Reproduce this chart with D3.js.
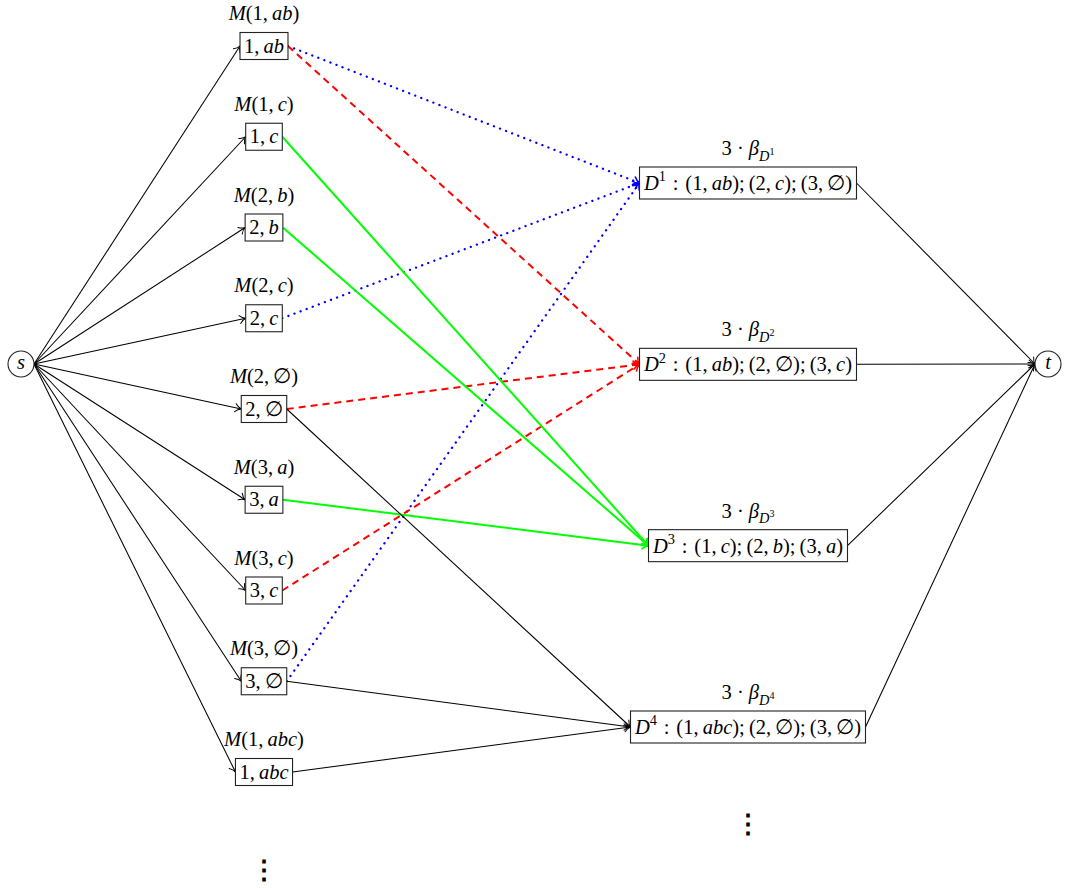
<!DOCTYPE html>
<html><head><meta charset="utf-8">
<script src="https://cdn.jsdelivr.net/npm/d3@7"></script>
<style>body{margin:0;background:#fff} svg{display:block} text{white-space:pre}</style>
</head><body>
<svg id="c" width="1065" height="888"></svg>
<script>
// ---- data ----
const leftKeys = ["1,ab", "1,c", "2,b", "2,c", "2,∅", "3,a", "3,c", "3,∅", "1,abc"];
const rightKeys = ["D^1", "D^2", "D^3", "D^4"];
const rightSets = ["(1,ab);(2,c);(3,∅)", "(1,ab);(2,∅);(3,c)", "(1,c);(2,b);(3,a)", "(1,abc);(2,∅);(3,∅)"];
const weightFactor = "3";
const blueEdges = [[0, 0], [3, 0], [7, 0]];
const redEdges = [[0, 1], [4, 1], [6, 1]];
const greenEdges = [[1, 2], [2, 2], [5, 2]];
const blackEdges = [[4, 3], [7, 3], [8, 3]];

// ---- layout ----
const svg = d3.select("#c");
const FONT = "'Liberation Serif','DejaVu Serif',serif";
const FS = 20.5;
const yLeft = d3.scaleLinear().domain([0, leftKeys.length - 1]).range([46, 772]);
const yRight = d3.scaleLinear().domain([0, rightKeys.length - 1]).range([183, 727]);
const xLeft = 264, xRight = 748;
const S = {x: 21, y: 364, r: 13}, T = {x: 1048, y: 364, r: 13};

const defs = svg.append("defs");
const colors = {black: "#000", blue: "#0000ff", red: "#ff0000", green: "#00ff00"};
Object.entries(colors).forEach(([k, c]) => {
  defs.append("marker").attr("id", "arr-" + k)
    .attr("markerUnits", "userSpaceOnUse").attr("markerWidth", 20).attr("markerHeight", 20)
    .attr("viewBox", "-10 -10 20 20").attr("refX", 0).attr("refY", 0).attr("orient", "auto")
    .append("path").attr("d", "M-6,-4 C-4,-1.6 -1.6,-0.4 0,0 C-1.6,0.4 -4,1.6 -6,4")
    .attr("fill", "none").attr("stroke", c).attr("stroke-width", k === "black" ? 1 : 1.6).attr("stroke-linecap", "round");
});

const gEdges = svg.append("g");
const gNodes = svg.append("g");

function parseMath(str, off, sc, out) {
  let i = 0;
  while (i < str.length) {
    const c = str[i];
    if (c === '^' || c === '_') {
      i++;
      let g;
      if (str[i] === '{') {
        let d = 1, j = i + 1;
        while (d > 0) { if (str[j] === '{') d++; else if (str[j] === '}') d--; j++; }
        g = str.slice(i + 1, j - 1); i = j;
      } else { g = str[i]; i++; }
      const ns = sc * 0.7;
      const no = c === '^' ? off - 0.42 * sc : off + 0.28 * sc;
      parseMath(g, no, ns, out);
      continue;
    }
    let t = c;
    if (c === ',') t = ',\u2009';
    else if (c === ';') t = ';\u2009';
    else if (c === ':') t = '\u2004:\u2004';
    else if (c === '·') t = '\u2005·\u2005';
    out.push({t, it: /[A-Za-zβ]/.test(c), off, sc});
    i++;
  }
  return out;
}
function drawMath(g, str, x, y, size) {
  const atoms = parseMath(str, 0, 1, []);
  const runs = [];
  atoms.forEach(a => {
    const l = runs[runs.length - 1];
    if (l && l.it === a.it && l.off === a.off && l.sc === a.sc) l.t += a.t; else runs.push({...a});
  });
  const text = g.append("text").attr("x", x).attr("y", y).attr("text-anchor", "middle")
    .attr("font-family", FONT).attr("font-size", size).attr("fill", "#000");
  let cur = 0;
  runs.forEach(r => {
    text.append("tspan").attr("dy", ((r.off - cur) * size).toFixed(2))
      .attr("font-size", (r.sc * size).toFixed(2)).attr("font-style", r.it ? "italic" : "normal").text(r.t);
    cur = r.off;
  });
  return text;
}

function boxNode(str, cx, cy, h, padX) {
  const g = gNodes.append("g");
  const t = drawMath(g, str, cx, cy + (h > 30 ? 7 : 6.5), FS);
  const w = t.node().getBBox().width;
  const bw = w + 2 * padX;
  g.insert("rect", "text").attr("x", cx - bw / 2).attr("y", cy - h / 2).attr("width", bw).attr("height", h)
    .attr("fill", "#fff").attr("stroke", "#222").attr("stroke-width", 1.1);
  return {cx, cy, west: cx - bw / 2, east: cx + bw / 2};
}

// left nodes
const leftNodes = leftKeys.map((k, i) => {
  const cy = yLeft(i);
  drawMath(gNodes, "M(" + k + ")", xLeft, cy - 26, FS);
  return boxNode(k, xLeft, cy, 27, 4);
});
// right nodes
const rightNodes = rightKeys.map((k, i) => {
  const cy = yRight(i);
  drawMath(gNodes, weightFactor + "·β_{" + k + "}", xRight, cy - 28, FS);
  return boxNode(k + ":" + rightSets[i], xRight, cy, 32, 4);
});

// s and t
[[S, "s"], [T, "t"]].forEach(([n, l]) => {
  gNodes.append("circle").attr("cx", n.x).attr("cy", n.y).attr("r", n.r).attr("fill", "#fff").attr("stroke", "#222").attr("stroke-width", 1.1);
  gNodes.append("text").attr("x", n.x).attr("y", n.y + 5).attr("text-anchor", "middle").attr("font-family", FONT)
    .attr("font-style", "italic").attr("font-size", FS).text(l);
});

// vdots
gNodes.append("text").attr("x", xLeft).attr("y", yLeft(leftKeys.length - 1) + 107).attr("text-anchor", "middle")
  .attr("font-family", "'DejaVu Serif',serif").attr("font-size", 26).attr("font-weight", "bold").text("⋮");
gNodes.append("text").attr("x", xRight).attr("y", yRight(rightKeys.length - 1) + 106).attr("text-anchor", "middle")
  .attr("font-family", "'DejaVu Serif',serif").attr("font-size", 26).attr("font-weight", "bold").text("⋮");

function edge(x1, y1, x2, y2, kind) {
  const p = gEdges.append("line").attr("x1", x1).attr("y1", y1).attr("x2", x2).attr("y2", y2)
    .attr("stroke", colors[kind]).attr("fill", "none").attr("marker-end", "url(#arr-" + kind + ")");
  if (kind === "black") p.attr("stroke-width", 1.05);
  else p.attr("stroke-width", 2);
  if (kind === "blue") p.attr("stroke-dasharray", "0.1 6.4").attr("stroke-linecap", "round").attr("stroke-width", 2.3);
  if (kind === "red") p.attr("stroke-dasharray", "7 5");
}
// s -> left
leftNodes.forEach(n => edge(S.x + S.r, S.y, n.west, n.cy, "black"));
// left -> right
[[blueEdges, "blue"], [redEdges, "red"], [greenEdges, "green"], [blackEdges, "black"]].forEach(([arr, kind]) => {
  arr.forEach(([a, b]) => edge(leftNodes[a].east, leftNodes[a].cy, rightNodes[b].west, rightNodes[b].cy, kind));
});
// right -> t
rightNodes.forEach(n => edge(n.east, n.cy, T.x - T.r, T.y, "black"));
</script>
</body></html>
